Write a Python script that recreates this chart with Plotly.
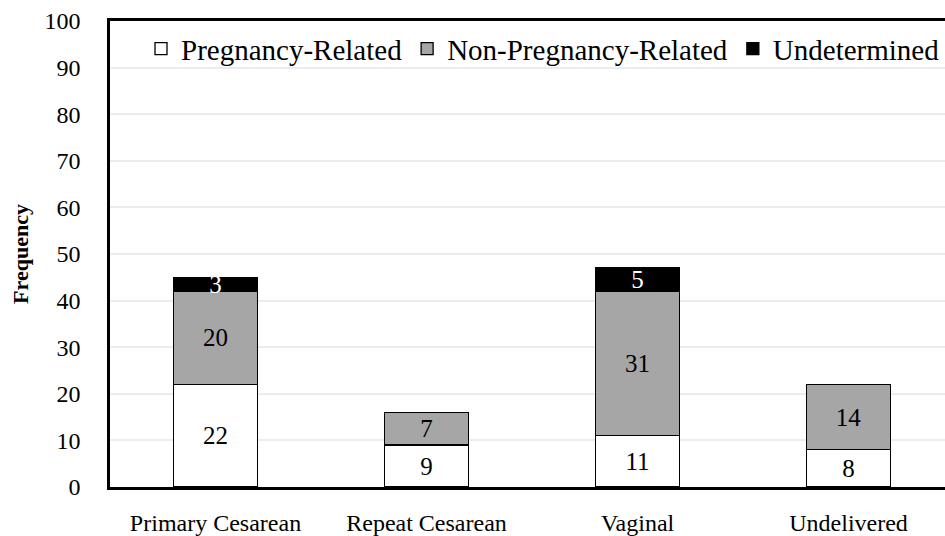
import plotly.graph_objects as go

categories = ['Primary Cesarean', 'Repeat Cesarean', 'Vaginal', 'Undelivered']
pregnancy_related = [22, 9, 11, 8]
non_pregnancy_related = [20, 7, 31, 14]
undetermined = [3, None, 5, None]

serif = 'Liberation Serif, Times New Roman, serif'

fig = go.Figure()

series = [
    ('Pregnancy-Related', pregnancy_related, 'white', 'black'),
    ('Non-Pregnancy-Related', non_pregnancy_related, '#a6a6a6', 'black'),
    ('Undetermined', undetermined, 'black', 'white'),
]
for name, vals, fill, txt in series:
    fig.add_trace(go.Bar(
        x=categories, y=vals, name=name, width=0.4,
        marker=dict(color=fill, line=dict(color='black', width=1.3)),
        text=[str(v) if v else '' for v in vals],
        textposition='inside', insidetextanchor='middle',
        constraintext='none', textangle=0,
        textfont=dict(family=serif, size=25, color=txt),
    ))

fig.update_layout(
    barmode='stack',
    width=945, height=536,
    margin=dict(l=110, r=0, t=21, b=49),
    plot_bgcolor='white', paper_bgcolor='white',
    font=dict(family=serif, color='black'),
    showlegend=True,
    legend=dict(orientation='h', x=1.0, xanchor='right', y=0.995, yanchor='top',
                font=dict(size=29), bgcolor='rgba(0,0,0,0)',
                traceorder='normal', itemwidth=30, tracegroupgap=0),
)
fig.update_xaxes(
    range=[-0.5, 3.457], showline=True, linecolor='black', linewidth=2.5,
    mirror=True, ticks='', ticklabelstandoff=12, automargin=False,
    tickfont=dict(size=24), showgrid=False,
)
fig.update_yaxes(
    range=[0, 100], dtick=10, showline=True, linecolor='black', linewidth=2.5,
    showgrid=True, gridcolor='#ececec', gridwidth=1.5, zeroline=False,
    ticks='', ticklabelstandoff=22, tickfont=dict(size=24), automargin=False,
    title=dict(text='<b>Frequency</b>', font=dict(size=22), standoff=10),
)

# page has a default 8px body margin, drop it so the figure sits at 0,0
fig.write_html('out.html', config={'displayModeBar': False},
               post_script="document.body.style.margin='0';")
